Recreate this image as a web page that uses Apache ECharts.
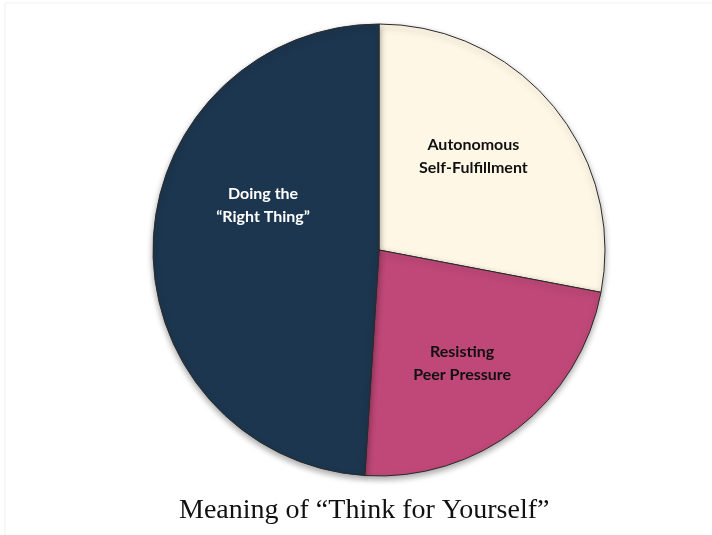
<!DOCTYPE html>
<html><head><meta charset="utf-8">
<script src="https://cdn.jsdelivr.net/npm/echarts@6/dist/echarts.min.js"></script>
<style>html,body{margin:0;padding:0;background:#fff}#c{width:712px;height:535px}</style>
</head><body><div id="c"></div>
<script>
const categories = ['Autonomous\nSelf-Fulfillment', 'Resisting\nPeer Pressure', 'Doing the\n\u201cRight Thing\u201d'];
const values = [28, 23, 49];
const colors = ['#FFF7E6', '#BF4878', '#1C364F'];
const labelColors = ['#111111', '#111111', '#FFFFFF'];
const labelOffsets = [[5, -20], [12, 22], [0, -41]];
const title = 'Meaning of \u201cThink for Yourself\u201d';

const chart = echarts.init(document.getElementById('c'));
chart.setOption({
  animation: false,
  title: {
    text: title, left: 174, top: 492,
    textStyle: {fontFamily: 'Liberation Serif', fontWeight: 'normal', fontSize: 28, color: '#111'}
  },
  graphic: [{type: 'rect', shape: {x: 5, y: 3, width: 720, height: 540}, style: {fill: 'none', stroke: '#efefef', lineWidth: 1}, silent: true}],
  series: [{
    type: 'pie',
    center: [379, 250],
    radius: [0, 226],
    startAngle: 90,
    clockwise: true,
    label: {position: 'inside', fontFamily: 'Lato', fontWeight: 'bold', fontSize: 16, lineHeight: 23, align: 'center'},
    labelLine: {show: false},
    emphasis: {disabled: true},
    itemStyle: {borderColor: '#2a2a2a', borderWidth: 1, shadowColor: 'rgba(0,0,0,0.35)', shadowBlur: 6, shadowOffsetY: 3},
    data: categories.map((n, i) => ({
      name: n, value: values[i],
      itemStyle: {color: colors[i]},
      label: {color: labelColors[i], offset: labelOffsets[i], formatter: '{b}'}
    }))
  }]
});
</script></body></html>
